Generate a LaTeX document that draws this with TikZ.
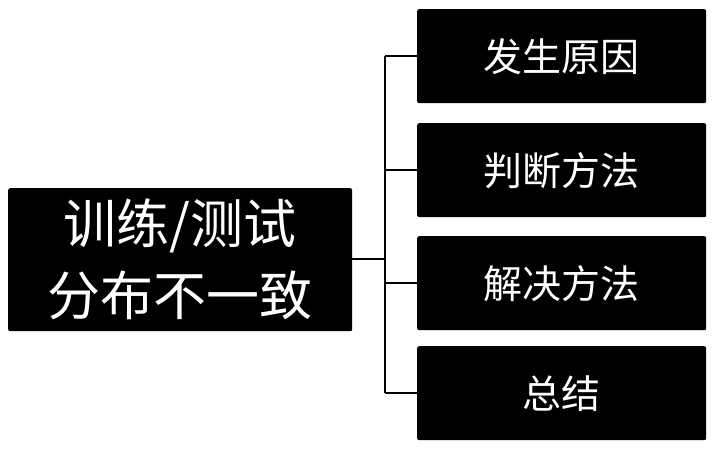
\documentclass[tikz,border=0pt]{standalone}
\usepackage{fontspec}
\setmainfont{Noto Sans CJK SC}
\begin{document}
\begin{tikzpicture}[x=1pt,y=-1pt,
  boxstyle/.style={fill=black,rounded corners=2pt,text=white,inner sep=0pt,anchor=north west},
  conn/.style={line width=2.4pt,black}]
\useasboundingbox (0,0) rectangle (717,449);
\node[boxstyle,minimum width=344pt,minimum height=143pt,align=center,font=\fontsize{53}{72}\selectfont] (main) at (8,188) {训练/测试\\分布不一致};
\node[boxstyle,minimum width=289pt,minimum height=94pt,font=\fontsize{39}{44}\selectfont] (b1) at (417,9) {发生原因};
\node[boxstyle,minimum width=289pt,minimum height=94pt,font=\fontsize{39}{44}\selectfont] (b2) at (417,123) {判断方法};
\node[boxstyle,minimum width=289pt,minimum height=94pt,font=\fontsize{39}{44}\selectfont] (b3) at (417,236) {解决方法};
\node[boxstyle,minimum width=289pt,minimum height=94pt,font=\fontsize{39}{44}\selectfont] (b4) at (417,346) {总结};
\coordinate (j) at (385,259);
\draw[conn] (main.east |- j) -- (j);
\draw[conn] (j |- b1.west) -- (j |- b4.west);
\draw[conn] (j |- b1.west) -- (b1.west);
\draw[conn] (j |- b2.west) -- (b2.west);
\draw[conn] (j |- b3.west) -- (b3.west);
\draw[conn] (j |- b4.west) -- (b4.west);
\end{tikzpicture}
\end{document}
